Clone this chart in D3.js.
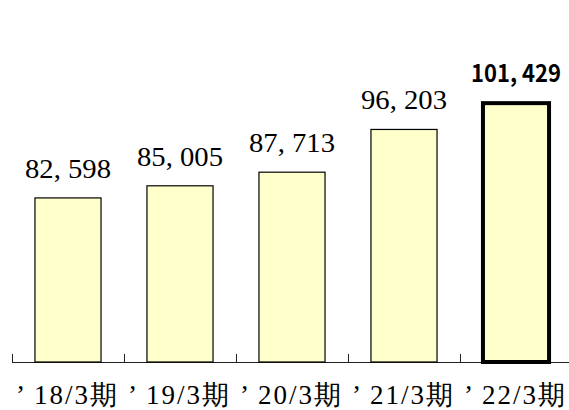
<!DOCTYPE html>
<html>
<head>
<meta charset="utf-8">
<script src="https://cdn.jsdelivr.net/npm/d3@7"></script>
<style>
  body { margin: 0; background: #fff; }
  svg { display: block; }
  .serif { font-family: "Liberation Serif", "DejaVu Serif", "Times New Roman", serif; }
  .gothic { font-family: "Noto Sans CJK JP", "DejaVu Sans", sans-serif; }
</style>
</head>
<body>
<div id="chart"></div>
<script>
// Sales by fiscal year
const periods = ["’18/3期", "’19/3期", "’20/3期", "’21/3期", "’22/3期"];
const values = [82598, 85005, 87713, 96203, 101429];
const valueLabels = ["82, 598", "85, 005", "87, 713", "96, 203", "101, 429"];

const W = 569, H = 410;
const baseY = 362;

const svg = d3.select("#chart")
  .append("svg")
  .attr("width", W)
  .attr("height", H);

const x = d3.scaleBand()
  .domain(periods)
  .range([12, 572])
  .paddingInner(0.41)
  .paddingOuter(0.205);

const y = d3.scaleLinear()
  .domain([50000, 110000])
  .range([baseY, 60]);

const last = periods.length - 1;
const gap = (x.step() - x.bandwidth()) / 2;
const cx = d => x(d) + x.bandwidth() / 2;

// axis line and tick marks between categories
svg.append("line")
  .attr("x1", 12)
  .attr("x2", W)
  .attr("y1", baseY + 0.5)
  .attr("y2", baseY + 0.5)
  .style("stroke", "#222")
  .style("stroke-width", 1.2);

svg.selectAll(".tick-mark")
  .data(periods)
  .enter()
  .append("line")
  .attr("class", "tick-mark")
  .attr("x1", d => Math.round(x(d) - gap) + 0.5)
  .attr("x2", d => Math.round(x(d) - gap) + 0.5)
  .attr("y1", baseY)
  .attr("y2", baseY - 8)
  .style("stroke", "#222")
  .style("stroke-width", 1);

// bars
svg.selectAll(".bar")
  .data(periods)
  .enter()
  .append("rect")
  .attr("class", "bar")
  .attr("x", d => x(d))
  .attr("y", (d, i) => y(values[i]))
  .attr("width", x.bandwidth())
  .attr("height", (d, i) => baseY - y(values[i]))
  .style("fill", "#FFFFCC")
  .style("stroke", "#000")
  .style("stroke-width", (d, i) => i === last ? 4 : 1.2);

// value labels
svg.selectAll(".val")
  .data(periods)
  .enter()
  .append("text")
  .attr("class", (d, i) => i === last ? "val gothic" : "val serif")
  .attr("x", d => cx(d))
  .attr("y", (d, i) => y(values[i]) - (i === last ? 21 : 20))
  .attr("text-anchor", "middle")
  .attr("textLength", (d, i) => i === last ? 90 : 86)
  .attr("lengthAdjust", "spacingAndGlyphs")
  .style("font-weight", (d, i) => i === last ? "bold" : "normal")
  .style("font-size", (d, i) => i === last ? "24px" : "28px")
  .style("fill", "#000")
  .text((d, i) => valueLabels[i]);

// category labels: the wide apostrophe sits apart from the rest
const cats = svg.selectAll(".cat")
  .data(periods)
  .enter()
  .append("g")
  .attr("class", "cat serif")
  .style("font-size", "27px")
  .style("fill", "#000");

cats.append("text")
  .attr("x", d => cx(d) - 52)
  .attr("y", 404)
  .text(d => d.slice(0, 1));

cats.append("text")
  .attr("x", d => cx(d) - 34)
  .attr("y", 404)
  .attr("textLength", 83)
  .attr("lengthAdjust", "spacing")
  .text(d => d.slice(1));
</script>
</body>
</html>
